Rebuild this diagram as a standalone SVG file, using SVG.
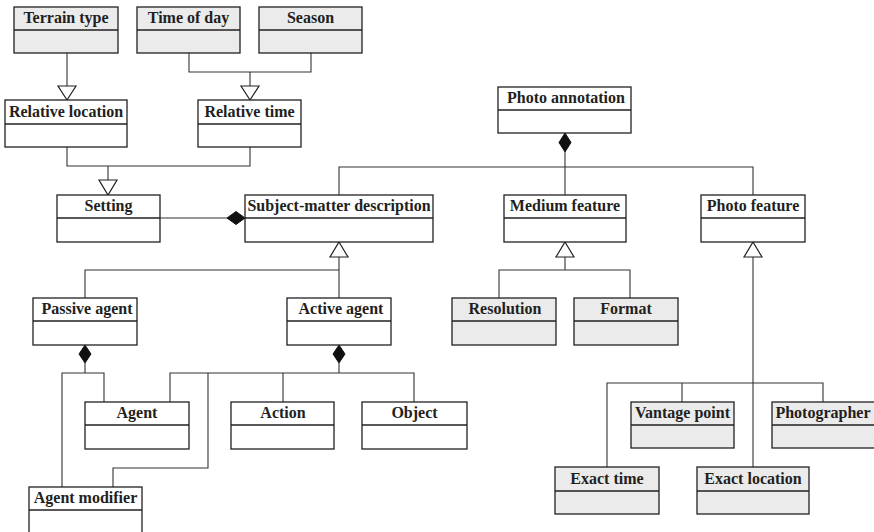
<svg xmlns="http://www.w3.org/2000/svg" width="874" height="532" viewBox="0 0 874 532">
<style>
.box{fill:#ffffff;stroke:#231f20;stroke-width:1.3}
.g .box{fill:#ebebeb}
.div{stroke:#231f20;stroke-width:1.3}
.t{font-family:"Liberation Serif","Times New Roman",serif;font-weight:bold;font-size:16px;fill:#231f20;text-anchor:middle}
.ln{fill:none;stroke:#333333;stroke-width:1.1}
.tri{fill:#ffffff;stroke:#231f20;stroke-width:1.2}
.dia{fill:#111111;stroke:#111111;stroke-width:1}
</style>
<rect width="874" height="532" fill="#ffffff"/>
<g id="connectors">
<path class="ln" d="M67,53V86"/>
<polygon class="tri" points="58,86 76,86 67,100"/>
<path class="ln" d="M189,53V72H311V53M250,72V86"/>
<polygon class="tri" points="241,86 259,86 250,100"/>
<path class="ln" d="M67,147V166H250V147M108,166V180"/>
<polygon class="tri" points="99,180 117,180 108,195"/>
<path class="ln" d="M160,218H227"/>
<polygon class="dia" points="227,218 236,211.5 245,218 236,224.5"/>
<polygon class="dia" points="565,133 571,142.5 565,152 559,142.5"/>
<path class="ln" d="M565,152V195M339,195V167H753V195"/>
<polygon class="tri" points="339,242 348,257 330,257"/>
<path class="ln" d="M339,257V298M85,298V270H339"/>
<polygon class="dia" points="85,345 91,354 85,363 79,354"/>
<path class="ln" d="M85,363V373M62,487V373H104V402"/>
<polygon class="dia" points="339,345 345,354 339,363 333,354"/>
<path class="ln" d="M339,363V373M170,402V373H414V402M283,373V402M208,373V468H113V487"/>
<polygon class="tri" points="565,242 574,257 556,257"/>
<path class="ln" d="M565,257V270M499,298V270H630V298"/>
<polygon class="tri" points="753,242 762,257 744,257"/>
<path class="ln" d="M753,257V467M607,467V383H823V402M682,383V402"/>
</g>
<g id="terrain-type" class="g"><rect class="box" x="14" y="7" width="104" height="46"/><line class="div" x1="14" y1="30" x2="118" y2="30"/><text class="t" x="66" y="23">Terrain type</text></g>
<g id="time-of-day" class="g"><rect class="box" x="137" y="7" width="103" height="46"/><line class="div" x1="137" y1="30" x2="240" y2="30"/><text class="t" x="188.5" y="23">Time of day</text></g>
<g id="season" class="g"><rect class="box" x="259" y="7" width="103" height="46"/><line class="div" x1="259" y1="30" x2="362" y2="30"/><text class="t" x="310.5" y="23">Season</text></g>
<g id="relative-location"><rect class="box" x="5" y="100" width="122" height="47"/><line class="div" x1="5" y1="124" x2="127" y2="124"/><text class="t" x="66" y="117">Relative location</text></g>
<g id="relative-time"><rect class="box" x="198" y="100" width="103" height="47"/><line class="div" x1="198" y1="124" x2="301" y2="124"/><text class="t" x="249.5" y="117">Relative time</text></g>
<g id="setting"><rect class="box" x="57" y="195" width="103" height="47"/><line class="div" x1="57" y1="218" x2="160" y2="218"/><text class="t" x="108.5" y="211">Setting</text></g>
<g id="subject-matter-description"><rect class="box" x="245" y="195" width="188" height="47"/><line class="div" x1="245" y1="218" x2="433" y2="218"/><text class="t" x="339" y="211">Subject-matter description</text></g>
<g id="photo-annotation"><rect class="box" x="498" y="87" width="133" height="46"/><line class="div" x1="498" y1="110" x2="631" y2="110"/><text class="t" x="566" y="103">Photo annotation</text></g>
<g id="medium-feature"><rect class="box" x="504" y="195" width="122" height="47"/><line class="div" x1="504" y1="218" x2="626" y2="218"/><text class="t" x="565" y="211">Medium feature</text></g>
<g id="photo-feature"><rect class="box" x="701" y="195" width="104" height="47"/><line class="div" x1="701" y1="218" x2="805" y2="218"/><text class="t" x="753" y="211">Photo feature</text></g>
<g id="passive-agent"><rect class="box" x="33" y="298" width="104" height="47"/><line class="div" x1="33" y1="321" x2="137" y2="321"/><text class="t" x="87" y="314">Passive agent</text></g>
<g id="active-agent"><rect class="box" x="287" y="298" width="104" height="47"/><line class="div" x1="287" y1="321" x2="391" y2="321"/><text class="t" x="341" y="314">Active agent</text></g>
<g id="resolution" class="g"><rect class="box" x="452" y="298" width="104" height="47"/><line class="div" x1="452" y1="321" x2="556" y2="321"/><text class="t" x="505" y="314">Resolution</text></g>
<g id="format" class="g"><rect class="box" x="574" y="298" width="104" height="47"/><line class="div" x1="574" y1="321" x2="678" y2="321"/><text class="t" x="626" y="314">Format</text></g>
<g id="agent"><rect class="box" x="85" y="402" width="104" height="47"/><line class="div" x1="85" y1="425" x2="189" y2="425"/><text class="t" x="137" y="418">Agent</text></g>
<g id="action"><rect class="box" x="231" y="402" width="103" height="47"/><line class="div" x1="231" y1="425" x2="334" y2="425"/><text class="t" x="283" y="418">Action</text></g>
<g id="object"><rect class="box" x="362" y="402" width="105" height="47"/><line class="div" x1="362" y1="425" x2="467" y2="425"/><text class="t" x="414.5" y="418">Object</text></g>
<g id="vantage-point" class="g"><rect class="box" x="631" y="402" width="103" height="46"/><line class="div" x1="631" y1="425" x2="734" y2="425"/><text class="t" x="682.5" y="418">Vantage point</text></g>
<g id="photographer" class="g"><rect class="box" x="772" y="402" width="104" height="46"/><line class="div" x1="772" y1="425" x2="876" y2="425"/><text class="t" x="823" y="418">Photographer</text></g>
<g id="exact-time" class="g"><rect class="box" x="555" y="467" width="104" height="47"/><line class="div" x1="555" y1="491" x2="659" y2="491"/><text class="t" x="607" y="484">Exact time</text></g>
<g id="exact-location" class="g"><rect class="box" x="697" y="467" width="112" height="47"/><line class="div" x1="697" y1="491" x2="809" y2="491"/><text class="t" x="753" y="484">Exact location</text></g>
<g id="agent-modifier"><rect class="box" x="29" y="487" width="113" height="50"/><line class="div" x1="29" y1="510" x2="142" y2="510"/><text class="t" x="85.5" y="503">Agent modifier</text></g>
</svg>
